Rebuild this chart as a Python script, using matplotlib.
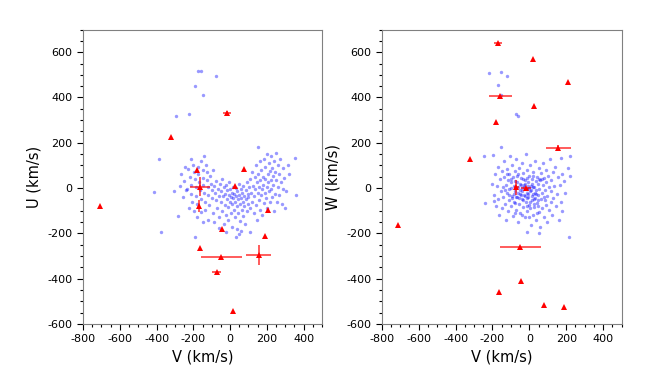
import numpy as np
import matplotlib
matplotlib.use('Agg')
import matplotlib.pyplot as plt
from matplotlib.ticker import MultipleLocator

plt.rcParams['axes.unicode_minus'] = False

# ---- fond (étoiles de comparaison), painel esquerdo: V, U ----
bg_v_left = [-177, -158, -74, -189, -150, -222, -294, -384, -415, -378, -189, 49, 106,
             153, 355, 358, 322, 301, -285, -303,
             -265, -250, -240, -255, -230, -220, -215, -210, -205, -200, -195, -190, -188,
             -185, -180, -175, -172, -168, -165, -160, -158, -150, -148, -145, -140, -138,
             -135, -130, -128, -125, -120, -118, -115, -110, -105, -100, -98, -95, -92,
             -225, -245, -270, -235, -198, -178, -150, -212, -140, -160, -122,
             -85, -80, -78, -75, -70, -65, -62, -60, -55, -50, -48, -45, -42, -40, -35,
             -32, -30, -28, -25, -20, -18, -15, -12, -10, -8, -5, -2, 0, 3, 5, 8, 10, 12,
             15, 18, 20, 22, 25, 28, 30, 32, 35, 38, 40, 42, 45, 48, 50, 52, 55, 58, 60,
             62, 65, 68, 70, 72, 75, 78, 80, 85, 88, 90, 92, 95, 98, -90, -20, 30, 60, -60,
             100, 105, 108, 110, 115, 118, 120, 125, 128, 130, 135, 138, 140, 142, 145,
             148, 150, 152, 155, 158, 160, 162, 165, 168, 170, 172, 175, 178, 180, 182,
             185, 188, 190, 192, 195, 198, 200, 202, 205, 208, 210, 212, 215, 218, 220,
             222, 225, 228, 230, 232, 235, 238, 240, 242, 245, 248, 250, 255, 258, 260,
             265, 268, 270, 275, 280, 285, 290, 295, 305, 315]
bg_u = [515, 515, 495, 451, 410, 327, 317, 128, -16, -196, -218, -203, -193,
        180, 133, -31, 60, -86, -123, -12,
        60, 30, -10, -40, 85, 50, 15, -25, -60, 100, 70, 40, 5,
        -35, -70, 95, 60, 25, -10, -50, 120, 80, 45, 15, -20, -60,
        -95, 100, 70, 35, 5, -30, -75, 55, 20, -10, -45, -110, 80,
        -90, 95, 10, -5, -100, -130, -150, 130, 140, -105, -140,
        10, -20, -55, 30, -90, -5, -35, -130, 20, -60, -15, -100, 40, -35, -160,
        5, -75, -25, -120, 15, -50, -10, -85, -140, -30, 25, -60, -5, -110, -40, -20, -170, -70,
        5, -45, -95, -25, -130, -60, 0, -35, -180, -80, -15, -50, -110, 20, -30, -70, -145, -5, -45,
        -95, -20, -60, -125, 10, -35, -80, -160, -10, -50, -100, 25, -25, -70, -150, -195, -215, -190, -175,
        -40, 5, -90, 40, -20, -60, 70, 10, -110, -35, 50, -5, -75, 100, 25,
        -140, -20, 60, -55, 5, 120, -95, 35, -30, 80, -5, -120, 50, 15, -65,
        130, -20, 95, 40, -45, 5, 150, -90, 60, 25, -15, 110, -60, 75, 35,
        -5, 140, -40, 90, 55, 15, -100, 120, -25, 70, 35, 155, -60, 100, 5,
        60, -30, 130, 25, -70, 90, -5, 45, -15, 100]

# ---- painel direito: V, W ----
bg_v_right = [-216, -152, -121, -170, -152, -71, -64, -154, -248, -199, -239, -194, 216,
              -13, 51, 223, 208, 223, 172,
              -200, -190, -185, -180, -175, -170, -168, -165, -160, -155, -150, -148, -145,
              -140, -138, -135, -130, -128, -125, -122, -120, -118, -115, -112, -110, -108,
              -105, -102, -100, -98, -95, -92, -90, -88, -85, -82, -80, -78, -75, -72, -70,
              -68, -65, -62, -60, -58, -55, -52, -50, -48, -45, -42, -40, -38, -35, -32,
              -30, -28, -25, -22, -20, -18, -15, -12, -10, -8, -5, -2, 0, 2, 5, 8, 10, 12,
              15, 18, 20, 22, 25, 28, 30, 32, 35, 38, 40, 42, 45, 48, 50, 52, 55, 58, 60,
              62, 65, 68, 70, 72, 75, 78, 80, 82, 85, 88, 90, 92, 95, 98, 100, 105, 108,
              110, 115, 118, 120, 125, 128, 130, 135, 140, 145, 150, 155, 160, 165, 170,
              175, 180, 190, 195, -60, -50, -40, -30, -20, -10, 0, 10, 20, 30, -70, -55,
              -45, -35, -25, -15, -5, 5, 15, 25, 35, 45, -65, -45, -25, -5, 15, 35, -85,
              -95, -75, -15, 5, 25, 45, -110, -130, -60, -35, -10, 20, 50, -80, -40, 0, 40,
              -100, -120, 70, 85]
bg_w = [509, 512, 494, 454, 413, 328, 318, 180, 140, 145, -64, -57, -218,
        -193, -200, 143, 89, 53, 133,
        20, -30, 60, -80, 10, 95, -50, -120, 40, -15, 75, -90, 5,
        -40, 120, 50, -70, 15, -140, 85, -20, 35, -100, 60, -5, -55,
        140, 25, -80, 0, 100, -35, 50, -125, 10, -60, 75, -15, 30, -95, 130,
        -40, 55, 5, -150, -70, 90, -25, 20, -110, 45, -50, 110, 0, -85, 65,
        -30, 15, -130, 35, -60, 150, -5, 80, -100, 25, -40, 55, -75, -15, 100, -165, 10, -55,
        40, -120, -25, 70, -85, 5, -45, 120, -10, -140, 50, -65, 20, -30, 90, -105, -5, 35, -170,
        -50, 65, -20, -90, 15, 110, -40, -130, 45, -10, -75, 80, 25, -150, -35, 55, -95, 5,
        130, -60, 35, -15, -120, 70, -45, 10, 95, -80, -25, 50, -140, 15, -60,
        60, -100, 30, -20, -20, -10, -15, 5, -5, -20, 0, -10, 5, -20, -40, -45,
        -30, -55, -35, -45, -25, -60, -35, -50, -25, -55, 25, 15, 20, 10, 20, 30, -25,
        -45, -65, -80, -90, -70, -80, -30, -10, 60, 40, 45, 55, 40, -110, -120, -130, -110,
        40, 60, 40, -55]

# ---- objetos (triângulos vermelhos) ----
red_v_left = [-710, -320, -180, -165, -170, -165, -18, 25, 75, -45, -48, 157, -73, 205, 190, 15]
red_u = [-80, 225, 80, 5, -80, -265, 333, 10, 85, -180, -305, -295, -370, -95, -210, -545]
red_v_left_err = [0, 0, 0, 55, 0, 0, 22, 0, 0, 0, 110, 68, 23, 0, 0, 0]
red_u_err = [0, 0, 0, 42, 25, 0, 6, 0, 0, 0, 0, 44, 0, 0, 0, 0]

red_v_right = [-710, -320, -169, 20, 210, -158, 25, -180, 158, -70, -18, -48, -45, -165, 80, 190]
red_w = [-165, 128, 640, 570, 468, 408, 363, 293, 177, 3, 0, -262, -410, -460, -515, -525]
red_v_right_err = [0, 0, 21, 0, 0, 63, 0, 0, 69, 12, 28, 113, 0, 0, 0, 0]
red_w_err = [0, 0, 0, 0, 0, 0, 0, 0, 12, 32, 0, 0, 0, 0, 0, 0]

fig = plt.figure(figsize=(6.64, 3.74), dpi=100)
ax1 = fig.add_axes([0.125, 0.134, 0.360, 0.787])
ax2 = fig.add_axes([0.575, 0.134, 0.361, 0.787])

panels = [(ax1, bg_v_left, bg_u, red_v_left, red_u, red_v_left_err, red_u_err, 'U (km/s)'),
          (ax2, bg_v_right, bg_w, red_v_right, red_w, red_v_right_err, red_w_err, 'W (km/s)')]

for ax, bx, by, rx, ry, rxe, rye, ylab in panels:
    ax.scatter(bx, by, s=6, color='blue', alpha=0.4, linewidths=0, zorder=1)
    ax.errorbar(rx, ry, xerr=rxe, yerr=rye, fmt='none', ecolor='red', elinewidth=1.2,
                alpha=0.75, capsize=0, zorder=2)
    ax.plot(rx, ry, '^', color='red', markersize=4, markeredgewidth=0, zorder=3)
    ax.set_xlim(-800, 500)
    ax.set_ylim(-600, 700)
    ax.xaxis.set_major_locator(MultipleLocator(200))
    ax.xaxis.set_minor_locator(MultipleLocator(50))
    ax.yaxis.set_major_locator(MultipleLocator(200))
    ax.yaxis.set_minor_locator(MultipleLocator(50))
    ax.tick_params(which='major', length=4, width=0.8, labelsize=8, direction='out')
    ax.tick_params(which='minor', length=2, width=0.8, direction='out')
    for sp in ax.spines.values():
        sp.set_color('#808080')
    ax.set_xlabel('V (km/s)', fontsize=10.5)
    ax.set_ylabel(ylab, fontsize=10.5)

fig.savefig('out.png', dpi=100)
